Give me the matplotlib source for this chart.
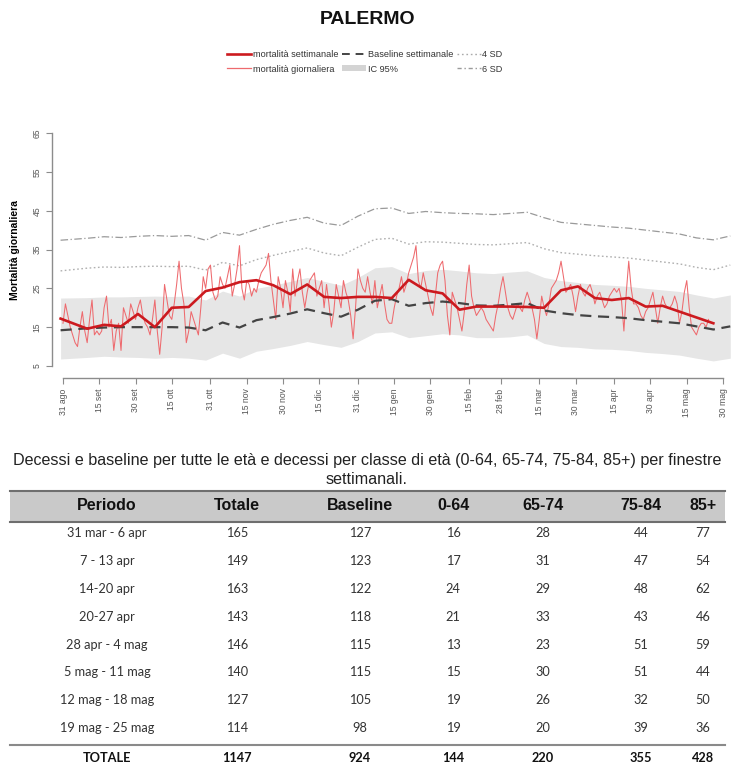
import matplotlib.pyplot as plt
from matplotlib.patches import Rectangle
from matplotlib.lines import Line2D
from matplotlib.patches import Patch
import numpy as np

# colours
c_week = '#cc1a1f'
c_day = '#ee6a6e'
c_base = '#444444'
c_sd = '#9a9a9a'
c_band = '#e6e6e6'

# x axis (days from 31 ago 2019)
tick_days = [0, 15, 30, 45, 61, 76, 91, 106, 122, 137, 152, 168, 181, 197, 212, 228, 243, 258, 273]
tick_labels = ['31 ago', '15 set', '30 set', '15 ott', '31 ott', '15 nov', '30 nov', '15 dic',
               '31 dic', '15 gen', '30 gen', '15 feb', '28 feb', '15 mar', '30 mar', '15 apr',
               '30 apr', '15 mag', '30 mag']

# daily mortality, one value per day starting 31 ago
daily = [16, 21, 18, 15, 13, 11, 10, 15, 19, 14, 11, 17, 22, 13, 14, 13, 14, 20, 23, 15,
         17, 9, 14, 16, 9, 20, 18, 16, 21, 19, 17, 20, 22, 18, 16, 15, 13, 17, 22, 14,
         8, 15, 26, 22, 18, 17, 21, 26, 32, 25, 21, 11, 14, 19, 17, 15, 13, 20, 28, 25,
         30, 31, 24, 22, 23, 28, 26, 25, 28, 31, 23, 26, 30, 36, 25, 22, 27, 26, 23, 25,
         24, 27, 29, 30, 31, 34, 27, 22, 17, 28, 25, 20, 27, 24, 19, 30, 23, 27, 30, 24,
         20, 24, 27, 28, 29, 23, 25, 27, 20, 26, 21, 15, 19, 26, 23, 20, 27, 24, 22, 18,
         12, 20, 30, 27, 25, 24, 28, 24, 21, 27, 20, 23, 26, 21, 17, 16, 16, 20, 23, 25,
         28, 24, 26, 29, 31, 33, 36, 27, 25, 29, 26, 23, 20, 18, 23, 29, 31, 32, 27, 18,
         13, 24, 22, 20, 17, 14, 19, 26, 31, 23, 20, 18, 19, 20, 19, 17, 16, 15, 14, 18,
         21, 25, 28, 24, 20, 18, 17, 19, 21, 20, 19, 22, 24, 22, 20, 17, 12, 17, 23, 20,
         18, 21, 25, 26, 27, 29, 32, 28, 24, 25, 26, 23, 19, 23, 26, 24, 23, 25, 26, 24,
         21, 23, 24, 22, 20, 21, 23, 24, 25, 24, 25, 22, 14, 24, 32, 25, 21, 21, 20, 18,
         17, 19, 20, 22, 24, 20, 16, 20, 23, 21, 20, 20, 21, 23, 21, 16, 19, 24, 27, 20,
         15, 14, 13, 15, 16, 16, 15, 17]

# weekly mortality (mean per day), one value per week
weekly = [17.2, 14.6, 15.6, 15.2, 18.4, 15.0, 20.0, 20.2, 24.3, 25.2, 26.6, 27.1, 25.8,
          23.5, 26.0, 22.8, 22.5, 22.8, 22.8, 22.5, 27.2, 24.5, 23.7, 19.5, 20.3, 20.3,
          20.3, 20.2, 20.0, 24.5, 25.5, 22.5, 22.0, 22.5, 20.3, 20.5, 19.0, 17.5, 16.0]

baseline = [14.2, 14.7, 14.9, 15.0, 15.0, 15.0, 15.0, 14.9, 14.2, 16.2, 14.9, 16.8, 17.6,
            18.5, 19.6, 18.6, 17.7, 19.5, 21.8, 22.2, 20.5, 21.2, 21.6, 21.2, 20.6, 20.5,
            20.8, 21.2, 19.3, 18.6, 18.1, 17.8, 17.6, 17.3, 16.8, 16.4, 16.0, 15.2, 14.4, 15.2]

sd4 = [29.5, 30.2, 30.5, 30.4, 30.6, 30.7, 30.6, 30.7, 29.7, 31.7, 30.8, 32.4, 33.5,
       34.5, 35.4, 34.1, 33.4, 35.6, 37.6, 37.9, 36.4, 37.0, 36.9, 36.6, 36.3, 36.2,
       36.5, 36.8, 35.2, 34.2, 33.8, 33.4, 33.1, 32.8, 32.3, 31.8, 31.3, 30.4, 29.8, 31.0]

sd6 = [37.4, 37.9, 38.3, 38.1, 38.4, 38.6, 38.4, 38.6, 37.4, 39.4, 38.7, 40.2, 41.5,
       42.5, 43.3, 41.8, 41.2, 43.6, 45.5, 45.7, 44.3, 44.8, 44.5, 44.3, 44.2, 44.0,
       44.3, 44.6, 43.2, 42.0, 41.6, 41.2, 40.8, 40.5, 40.0, 39.5, 39.0, 38.0, 37.5, 38.5]

ic_low = [6.8, 7.2, 7.5, 7.3, 7.2, 7.0, 7.2, 7.0, 6.5, 8.3, 7.0, 8.8, 9.5, 10.3, 11.3,
          10.5, 9.8, 11.3, 13.5, 13.8, 12.3, 12.8, 13.3, 13.0, 12.3, 12.3, 12.5, 13.0,
          10.8, 10.0, 9.8, 9.4, 9.3, 9.0, 8.5, 8.2, 7.8, 7.0, 6.3, 7.0]
ic_up = [22.5, 22.6, 22.8, 22.8, 22.9, 23.0, 22.9, 23.0, 22.0, 24.3, 23.0, 25.0, 25.8,
         26.8, 27.8, 26.8, 25.8, 27.8, 30.3, 30.6, 28.8, 29.6, 29.9, 29.5, 29.0, 28.8,
         29.2, 29.5, 27.8, 27.0, 26.5, 26.0, 25.8, 25.5, 25.0, 24.6, 24.2, 23.3, 22.5, 23.3]

# table
periodi = ['31 mar - 6 apr', '7 - 13 apr', '14-20 apr', '20-27 apr', '28 apr - 4 mag',
           '5 mag - 11 mag', '12 mag - 18 mag', '19 mag - 25 mag']
totale = [165, 149, 163, 143, 146, 140, 127, 114]
base_tab = [127, 123, 122, 118, 115, 115, 105, 98]
eta_0_64 = [16, 17, 24, 21, 13, 15, 19, 19]
eta_65_74 = [28, 31, 29, 33, 23, 30, 26, 20]
eta_75_84 = [44, 47, 48, 43, 51, 51, 32, 39]
eta_85 = [77, 54, 62, 46, 59, 44, 50, 36]
col_names = ['Periodo', 'Totale', 'Baseline', '0-64', '65-74', '75-84', '85+']
totals_row = ['TOTALE', '1147', '924', '144', '220', '355', '428']

plt.rcParams['font.family'] = ['Liberation Sans', 'DejaVu Sans']

W, H = 733, 771
fig = plt.figure(figsize=(W / 100, H / 100), dpi=100)

######################
# PLOT
######################
ax = fig.add_axes([52 / W, 1 - 378 / H, (731 - 52) / W, (378 - 123) / H])

days = np.arange(len(daily))
# weekly points sit mid-week; the first one is drawn from the start of the axis
week_days = np.concatenate([[-1], 3 + 7 * np.arange(1, len(weekly))])
band_days = np.concatenate([[-1], 3 + 7 * np.arange(1, len(baseline))])

ax.fill_between(band_days, ic_low, ic_up, color=c_band, linewidth=0, zorder=1)
ax.plot(band_days, sd6, color=c_sd, linestyle=(0, (6, 2, 1, 2)), linewidth=0.9, zorder=2)
ax.plot(band_days, sd4, color='#b0b0b0', linestyle=(0, (1.2, 1.8)), linewidth=1.0, zorder=2)
ax.plot(days, daily, color=c_day, linewidth=0.75, zorder=3)
ax.plot(band_days, baseline, color=c_base, linestyle=(0, (5, 3)), linewidth=1.6, zorder=4)
ax.plot(week_days, weekly, color=c_week, linewidth=1.9, zorder=5)

ax.set_xlim(-4.55, 276.3)
ax.set_ylim(1.9, 67.6)
for s in ['top', 'right']:
    ax.spines[s].set_visible(False)
ax.spines['left'].set_bounds(5, 65)
ax.spines['bottom'].set_bounds(tick_days[0], tick_days[-1])
for s in ['left', 'bottom']:
    ax.spines[s].set_color('#8c8c8c')
    ax.spines[s].set_linewidth(1.0)

ax.set_yticks([5, 15, 25, 35, 45, 55, 65])
ax.set_xticks(tick_days)
ax.set_xticklabels(tick_labels, rotation=90)
ax.tick_params(axis='both', colors='#8c8c8c', labelcolor='#555555', labelsize=6.2,
               length=4, width=0.8)
for lab in ax.get_yticklabels():
    lab.set_rotation(90)
    lab.set_va('center')
ax.set_ylabel('Mortalità giornaliera', fontsize=7.5, fontweight='bold', labelpad=9)

fig.text(368 / W, 1 - 19 / H, 'PALERMO', ha='center', va='center', fontsize=14,
         fontweight='bold', color='#111111')

handles = [Line2D([], [], color=c_week, linewidth=1.9),
           Line2D([], [], color=c_day, linewidth=0.9),
           Line2D([], [], color=c_base, linestyle=(0, (4, 3)), linewidth=1.4),
           Patch(facecolor='#d4d4d4', edgecolor='none'),
           Line2D([], [], color='#aaaaaa', linestyle=(0, (1.2, 2)), linewidth=1.0),
           Line2D([], [], color=c_sd, linestyle=(0, (3, 2, 1, 2)), linewidth=1.0)]
labels = ['mortalità settimanale', 'mortalità giornaliera', 'Baseline settimanale',
          'IC 95%', '4 SD', '6 SD']
leg = fig.legend(handles, labels, ncol=3, loc='center', bbox_to_anchor=(365 / W, 1 - 62 / H),
                 frameon=False, fontsize=6.6, handlelength=2.6, handleheight=0.6,
                 columnspacing=0.4, labelspacing=0.55, handletextpad=0.2)
for t in leg.get_texts():
    t.set_color('#333333')

######################
# TABLE
######################
tab = fig.add_axes([0, 0, 1, 1])
tab.set_xlim(0, W)
tab.set_ylim(H, 0)
tab.axis('off')

body = ['Lato', 'DejaVu Sans']

tab.text(367, 461, 'Decessi e baseline per tutte le età e decessi per classe di età '
         '(0-64, 65-74, 75-84, 85+) per finestre', ha='center', va='center',
         fontsize=11.6, color='#222222')
tab.text(367, 479, 'settimanali.', ha='center', va='center', fontsize=11.6,
         color='#222222')

tab.add_patch(Rectangle((10, 491), 715, 31, facecolor='#c9c9c9', edgecolor='none'))
tab.plot([10, 725], [491, 491], color='#6e6e6e', linewidth=1.5)
tab.plot([10, 725], [522, 522], color='#6e6e6e', linewidth=1.5)
tab.plot([10, 725], [745, 745], color='#8a8a8a', linewidth=1.5)

col_x = [107, 237, 360, 453, 543, 641, 703]
for x, name in zip(col_x, col_names):
    tab.text(x, 506, name, ha='center', va='center', fontsize=11.5, fontweight='bold',
             color='#111111')

row_y = 533 + 27.9 * np.arange(len(periodi))
for i, y in enumerate(row_y):
    vals = [periodi[i], totale[i], base_tab[i], eta_0_64[i], eta_65_74[i],
            eta_75_84[i], eta_85[i]]
    for x, v in zip(col_x, vals):
        tab.text(x, y, str(v), ha='center', va='center', fontsize=9.2, family=body,
                 color='#333333')

for x, v in zip(col_x, totals_row):
    tab.text(x, 758, v, ha='center', va='center', fontsize=9.2, fontweight='bold',
             family=body, color='#111111')

plt.savefig('out.png', dpi=100)
